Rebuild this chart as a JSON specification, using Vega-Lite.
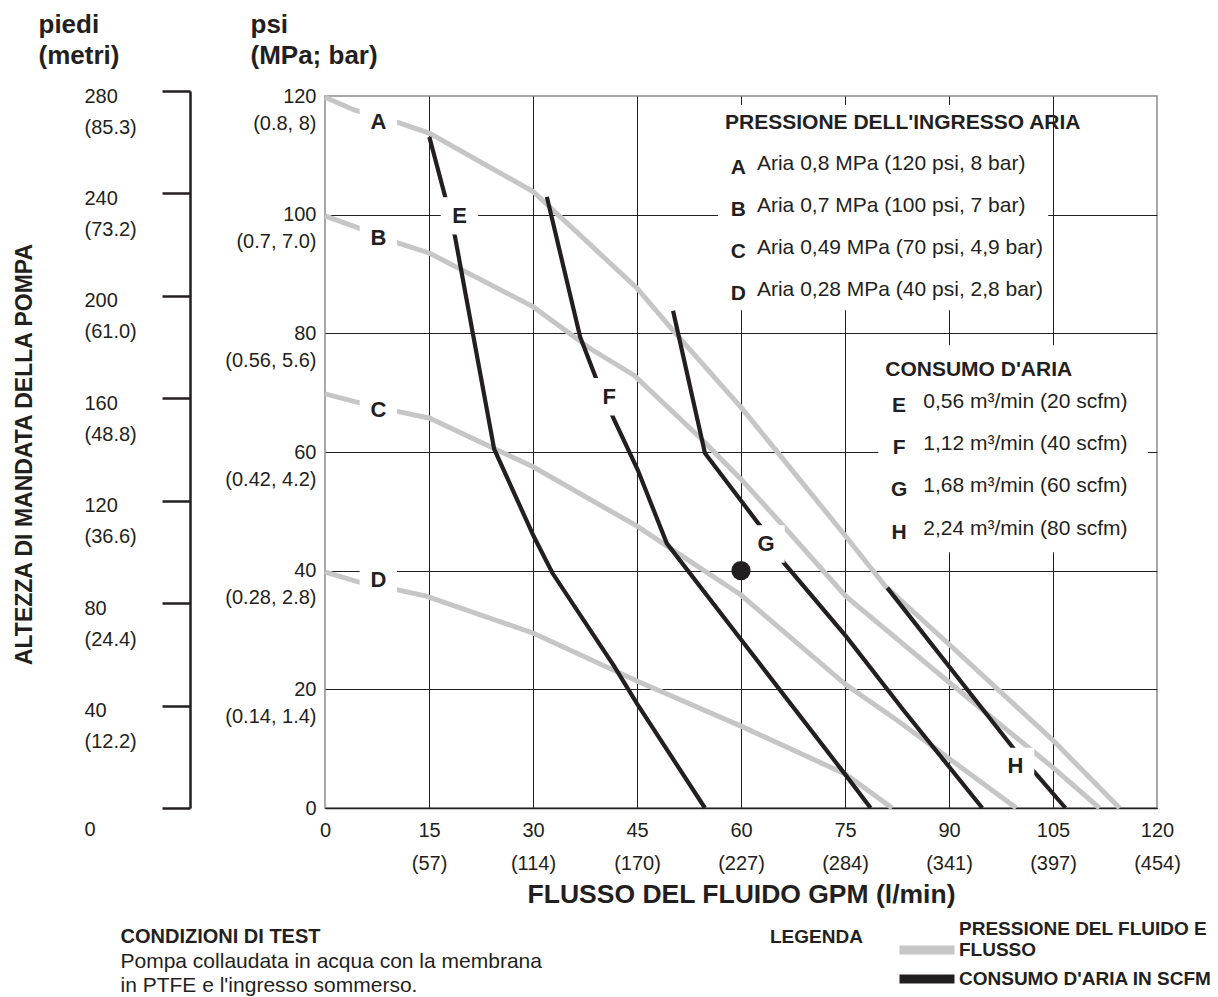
{
  "$schema": "https://vega.github.io/schema/vega-lite/v6.json",
  "width": 832,
  "height": 712,
  "autosize": {"type": "none"},
  "padding": {"left": 325, "top": 96, "right": 61, "bottom": 189},
  "background": "#ffffff",
  "config": {
    "font": "Liberation Sans",
    "view": {"stroke": "#8c8c8c", "strokeWidth": 1.5},
    "axis": {"labelFont": "Liberation Sans", "titleFont": "Liberation Sans", "labelColor": "#231f20", "titleColor": "#231f20", "labelFlush": false, "labelOverlap": false},
    "legend": {"labelFont": "Liberation Sans", "titleFont": "Liberation Sans", "labelColor": "#231f20", "titleColor": "#231f20"}
  },
  "datasets": {
    "curves": [
      {"s": "A", "kind": "PRESSIONE DEL FLUIDO E FLUSSO", "gpm": 0, "psi": 119.8},
      {"s": "A", "kind": "PRESSIONE DEL FLUIDO E FLUSSO", "gpm": 4.3, "psi": 117.6},
      {"s": "A", "kind": "PRESSIONE DEL FLUIDO E FLUSSO", "gpm": 10.6, "psi": 115.5},
      {"s": "A", "kind": "PRESSIONE DEL FLUIDO E FLUSSO", "gpm": 15.1, "psi": 113.7},
      {"s": "A", "kind": "PRESSIONE DEL FLUIDO E FLUSSO", "gpm": 30, "psi": 103.9},
      {"s": "A", "kind": "PRESSIONE DEL FLUIDO E FLUSSO", "gpm": 38.3, "psi": 94.9},
      {"s": "A", "kind": "PRESSIONE DEL FLUIDO E FLUSSO", "gpm": 45, "psi": 87.6},
      {"s": "A", "kind": "PRESSIONE DEL FLUIDO E FLUSSO", "gpm": 50.4, "psi": 80.2},
      {"s": "A", "kind": "PRESSIONE DEL FLUIDO E FLUSSO", "gpm": 60.1, "psi": 67.4},
      {"s": "A", "kind": "PRESSIONE DEL FLUIDO E FLUSSO", "gpm": 64.2, "psi": 61.5},
      {"s": "A", "kind": "PRESSIONE DEL FLUIDO E FLUSSO", "gpm": 75.1, "psi": 45.8},
      {"s": "A", "kind": "PRESSIONE DEL FLUIDO E FLUSSO", "gpm": 80.8, "psi": 37.4},
      {"s": "A", "kind": "PRESSIONE DEL FLUIDO E FLUSSO", "gpm": 90, "psi": 27.6},
      {"s": "A", "kind": "PRESSIONE DEL FLUIDO E FLUSSO", "gpm": 105, "psi": 11.4},
      {"s": "A", "kind": "PRESSIONE DEL FLUIDO E FLUSSO", "gpm": 114.6, "psi": 0},
      {"s": "B", "kind": "PRESSIONE DEL FLUIDO E FLUSSO", "gpm": 0, "psi": 99.8},
      {"s": "B", "kind": "PRESSIONE DEL FLUIDO E FLUSSO", "gpm": 4.3, "psi": 98},
      {"s": "B", "kind": "PRESSIONE DEL FLUIDO E FLUSSO", "gpm": 10.6, "psi": 95.2},
      {"s": "B", "kind": "PRESSIONE DEL FLUIDO E FLUSSO", "gpm": 15.1, "psi": 93.5},
      {"s": "B", "kind": "PRESSIONE DEL FLUIDO E FLUSSO", "gpm": 30, "psi": 84.5},
      {"s": "B", "kind": "PRESSIONE DEL FLUIDO E FLUSSO", "gpm": 38.3, "psi": 77.4},
      {"s": "B", "kind": "PRESSIONE DEL FLUIDO E FLUSSO", "gpm": 44.6, "psi": 72.9},
      {"s": "B", "kind": "PRESSIONE DEL FLUIDO E FLUSSO", "gpm": 54.3, "psi": 62.2},
      {"s": "B", "kind": "PRESSIONE DEL FLUIDO E FLUSSO", "gpm": 60.1, "psi": 55.3},
      {"s": "B", "kind": "PRESSIONE DEL FLUIDO E FLUSSO", "gpm": 66.6, "psi": 46.9},
      {"s": "B", "kind": "PRESSIONE DEL FLUIDO E FLUSSO", "gpm": 75.1, "psi": 35.7},
      {"s": "B", "kind": "PRESSIONE DEL FLUIDO E FLUSSO", "gpm": 90, "psi": 21.2},
      {"s": "B", "kind": "PRESSIONE DEL FLUIDO E FLUSSO", "gpm": 105, "psi": 6.8},
      {"s": "B", "kind": "PRESSIONE DEL FLUIDO E FLUSSO", "gpm": 111.7, "psi": 0},
      {"s": "C", "kind": "PRESSIONE DEL FLUIDO E FLUSSO", "gpm": 0, "psi": 69.8},
      {"s": "C", "kind": "PRESSIONE DEL FLUIDO E FLUSSO", "gpm": 4.3, "psi": 68.5},
      {"s": "C", "kind": "PRESSIONE DEL FLUIDO E FLUSSO", "gpm": 10.6, "psi": 66.8},
      {"s": "C", "kind": "PRESSIONE DEL FLUIDO E FLUSSO", "gpm": 15.1, "psi": 65.7},
      {"s": "C", "kind": "PRESSIONE DEL FLUIDO E FLUSSO", "gpm": 30, "psi": 57.5},
      {"s": "C", "kind": "PRESSIONE DEL FLUIDO E FLUSSO", "gpm": 45, "psi": 47.5},
      {"s": "C", "kind": "PRESSIONE DEL FLUIDO E FLUSSO", "gpm": 49.4, "psi": 44.1},
      {"s": "C", "kind": "PRESSIONE DEL FLUIDO E FLUSSO", "gpm": 60, "psi": 35.9},
      {"s": "C", "kind": "PRESSIONE DEL FLUIDO E FLUSSO", "gpm": 75.1, "psi": 20.8},
      {"s": "C", "kind": "PRESSIONE DEL FLUIDO E FLUSSO", "gpm": 82.5, "psi": 14.8},
      {"s": "C", "kind": "PRESSIONE DEL FLUIDO E FLUSSO", "gpm": 99.7, "psi": 0},
      {"s": "D", "kind": "PRESSIONE DEL FLUIDO E FLUSSO", "gpm": 0, "psi": 39.8},
      {"s": "D", "kind": "PRESSIONE DEL FLUIDO E FLUSSO", "gpm": 4.5, "psi": 38.2},
      {"s": "D", "kind": "PRESSIONE DEL FLUIDO E FLUSSO", "gpm": 10.3, "psi": 36.8},
      {"s": "D", "kind": "PRESSIONE DEL FLUIDO E FLUSSO", "gpm": 14.6, "psi": 35.7},
      {"s": "D", "kind": "PRESSIONE DEL FLUIDO E FLUSSO", "gpm": 30, "psi": 29.5},
      {"s": "D", "kind": "PRESSIONE DEL FLUIDO E FLUSSO", "gpm": 45, "psi": 21.4},
      {"s": "D", "kind": "PRESSIONE DEL FLUIDO E FLUSSO", "gpm": 60, "psi": 13.8},
      {"s": "D", "kind": "PRESSIONE DEL FLUIDO E FLUSSO", "gpm": 75.1, "psi": 5.7},
      {"s": "D", "kind": "PRESSIONE DEL FLUIDO E FLUSSO", "gpm": 81.8, "psi": 0},
      {"s": "E", "kind": "CONSUMO D'ARIA IN SCFM", "gpm": 15.05, "psi": 113.1},
      {"s": "E", "kind": "CONSUMO D'ARIA IN SCFM", "gpm": 17.45, "psi": 102.5},
      {"s": "E", "kind": "CONSUMO D'ARIA IN SCFM", "gpm": 18.75, "psi": 96.3},
      {"s": "E", "kind": "CONSUMO D'ARIA IN SCFM", "gpm": 24.4, "psi": 60.5},
      {"s": "E", "kind": "CONSUMO D'ARIA IN SCFM", "gpm": 30.1, "psi": 45.8},
      {"s": "E", "kind": "CONSUMO D'ARIA IN SCFM", "gpm": 32.8, "psi": 39.6},
      {"s": "E", "kind": "CONSUMO D'ARIA IN SCFM", "gpm": 41.7, "psi": 23.9},
      {"s": "E", "kind": "CONSUMO D'ARIA IN SCFM", "gpm": 45, "psi": 17.6},
      {"s": "E", "kind": "CONSUMO D'ARIA IN SCFM", "gpm": 54.8, "psi": 0},
      {"s": "F", "kind": "CONSUMO D'ARIA IN SCFM", "gpm": 32, "psi": 103},
      {"s": "F", "kind": "CONSUMO D'ARIA IN SCFM", "gpm": 36.8, "psi": 79.4},
      {"s": "F", "kind": "CONSUMO D'ARIA IN SCFM", "gpm": 39.2, "psi": 72.1},
      {"s": "F", "kind": "CONSUMO D'ARIA IN SCFM", "gpm": 41.6, "psi": 65.7},
      {"s": "F", "kind": "CONSUMO D'ARIA IN SCFM", "gpm": 45.1, "psi": 57},
      {"s": "F", "kind": "CONSUMO D'ARIA IN SCFM", "gpm": 49.3, "psi": 44.6},
      {"s": "F", "kind": "CONSUMO D'ARIA IN SCFM", "gpm": 60, "psi": 28.4},
      {"s": "F", "kind": "CONSUMO D'ARIA IN SCFM", "gpm": 74.8, "psi": 6},
      {"s": "F", "kind": "CONSUMO D'ARIA IN SCFM", "gpm": 78.7, "psi": 0},
      {"s": "G", "kind": "CONSUMO D'ARIA IN SCFM", "gpm": 50.2, "psi": 83.8},
      {"s": "G", "kind": "CONSUMO D'ARIA IN SCFM", "gpm": 54.8, "psi": 59.8},
      {"s": "G", "kind": "CONSUMO D'ARIA IN SCFM", "gpm": 62.8, "psi": 47.5},
      {"s": "G", "kind": "CONSUMO D'ARIA IN SCFM", "gpm": 66.2, "psi": 41.3},
      {"s": "G", "kind": "CONSUMO D'ARIA IN SCFM", "gpm": 75.1, "psi": 29},
      {"s": "G", "kind": "CONSUMO D'ARIA IN SCFM", "gpm": 83.5, "psi": 16.4},
      {"s": "G", "kind": "CONSUMO D'ARIA IN SCFM", "gpm": 94.8, "psi": 0},
      {"s": "H", "kind": "CONSUMO D'ARIA IN SCFM", "gpm": 81.1, "psi": 37.1},
      {"s": "H", "kind": "CONSUMO D'ARIA IN SCFM", "gpm": 99.4, "psi": 9.9},
      {"s": "H", "kind": "CONSUMO D'ARIA IN SCFM", "gpm": 102.8, "psi": 5.4},
      {"s": "H", "kind": "CONSUMO D'ARIA IN SCFM", "gpm": 106.8, "psi": 0}
    ],
    "curveLabels": [
      {"s": "A", "gpm": 7.7, "psi": 115.6},
      {"s": "B", "gpm": 7.7, "psi": 96.0},
      {"s": "C", "gpm": 7.7, "psi": 67.0},
      {"s": "D", "gpm": 7.7, "psi": 38.4},
      {"s": "E", "gpm": 19.4, "psi": 99.8},
      {"s": "F", "gpm": 41.0, "psi": 69.3},
      {"s": "G", "gpm": 63.6, "psi": 44.5},
      {"s": "H", "gpm": 99.6, "psi": 7.0}
    ],
    "legendTitles": [
      {"text": "PRESSIONE DELL'INGRESSO ARIA", "gpm": 57.7, "psi": 115.5},
      {"text": "CONSUMO D'ARIA", "gpm": 80.8, "psi": 73.8}
    ],
    "legendItems": [
      {"s": "A", "desc": "Aria 0,8 MPa (120 psi, 8 bar)", "keyGpm": 59.6, "gpm": 62.3, "psi": 108.6},
      {"s": "B", "desc": "Aria 0,7 MPa (100 psi, 7 bar)", "keyGpm": 59.6, "gpm": 62.3, "psi": 101.5},
      {"s": "C", "desc": "Aria 0,49 MPa (70 psi, 4,9 bar)", "keyGpm": 59.6, "gpm": 62.3, "psi": 94.4},
      {"s": "D", "desc": "Aria 0,28 MPa (40 psi, 2,8 bar)", "keyGpm": 59.6, "gpm": 62.3, "psi": 87.3},
      {"s": "E", "desc": "0,56 m³/min (20 scfm)", "keyGpm": 82.8, "gpm": 86.3, "psi": 68.5},
      {"s": "F", "desc": "1,12 m³/min (40 scfm)", "keyGpm": 82.8, "gpm": 86.3, "psi": 61.4},
      {"s": "G", "desc": "1,68 m³/min (60 scfm)", "keyGpm": 82.8, "gpm": 86.3, "psi": 54.2},
      {"s": "H", "desc": "2,24 m³/min (80 scfm)", "keyGpm": 82.8, "gpm": 86.3, "psi": 47.0}
    ],
    "operatingPoint": [{"gpm": 60, "psi": 40}],
    "feetTicks": [{"ft": 0}, {"ft": 40}, {"ft": 80}, {"ft": 120}, {"ft": 160}, {"ft": 200}, {"ft": 240}, {"ft": 280}]
  },
  "layer": [
    {
      "layer": [
        {
          "data": {"name": "curves"},
          "transform": [{"filter": "datum.kind === 'PRESSIONE DEL FLUIDO E FLUSSO'"}],
          "mark": {"type": "line", "strokeWidth": 5},
          "encoding": {
            "x": {
              "field": "gpm", "type": "quantitative",
              "scale": {"domain": [0, 120], "nice": false, "zero": false},
              "axis": {
                "orient": "bottom",
                "values": [0, 15, 30, 45, 60, 75, 90, 105, 120],
                "grid": true, "gridColor": "#231f20", "gridWidth": 1,
                "gridOpacity": {"condition": {"test": "datum.value === 0 || datum.value === 120", "value": 0}, "value": 1},
                "domain": true, "domainColor": "#231f20", "domainWidth": 1.5,
                "ticks": false, "tickSize": 0,
                "labelPadding": 12, "labelBaseline": "top", "labelFontSize": 20, "labelLineHeight": 33,
                "labelExpr": "datum.value === 0 ? '0' : [datum.label, '(' + ['', '57', '114', '170', '227', '284', '341', '397', '454'][datum.value / 15] + ')']",
                "title": "FLUSSO DEL FLUIDO GPM (l/min)",
                "titleFontSize": 26.5, "titleFontWeight": "bold",
                "titleBaseline": "middle", "titleX": 416, "titleY": 86
              }
            },
            "y": {
              "field": "psi", "type": "quantitative",
              "scale": {"domain": [0, 120], "nice": false},
              "axis": {
                "values": [0, 20, 40, 60, 80, 100, 120],
                "grid": true, "gridColor": "#231f20", "gridWidth": 1,
                "gridOpacity": {"condition": {"test": "datum.value === 120", "value": 0}, "value": 1},
                "domain": false, "ticks": false, "tickSize": 0,
                "labelPadding": 9, "labelAlign": "right", "labelBaseline": "top", "labelOffset": -10,
                "labelLineHeight": 27, "labelFontSize": 20,
                "labelExpr": "datum.value === 0 ? '0' : [datum.label, ['', '(0.14, 1.4)', '(0.28, 2.8)', '(0.42, 4.2)', '(0.56, 5.6)', '(0.7, 7.0)', '(0.8, 8)'][datum.value / 20]]",
                "title": ["psi", "(MPa; bar)"],
                "titleAngle": 0, "titleAlign": "left", "titleBaseline": "alphabetic",
                "titleX": -75, "titleY": -64, "titleFontSize": 26, "titleFontWeight": "bold", "titleLineHeight": 31
              }
            },
            "detail": {"field": "s"},
            "color": {
              "field": "kind", "type": "nominal",
              "scale": {"domain": ["PRESSIONE DEL FLUIDO E FLUSSO", "CONSUMO D'ARIA IN SCFM"], "range": ["#c6c6c6", "#231f20"]},
              "legend": {
                "title": "LEGENDA",
                "orient": "none", "legendX": 445, "legendY": 824,
                "titleOrient": "left", "titleAnchor": "start", "titlePadding": 32,
                "titleFontSize": 19, "titleFontWeight": "bold",
                "labelFontSize": 19, "labelFontWeight": "bold", "labelOffset": 0, "labelLimit": 400,
                "labelExpr": "datum.label === 'PRESSIONE DEL FLUIDO E FLUSSO' ? ['PRESSIONE DEL FLUIDO E', 'FLUSSO'] : datum.label",
                "symbolType": "stroke", "symbolSize": 3025, "symbolStrokeWidth": 9,
                "rowPadding": -20, "padding": 0,
                "encode": {
                  "title": {"update": {"angle": {"value": 0}, "baseline": {"value": "top"}, "align": {"value": "left"}, "dy": {"value": 8}}},
                  "symbols": {"update": {"y": {"signal": "datum.value === 'PRESSIONE DEL FLUIDO E FLUSSO' ? 30 : 11"}}},
                  "labels": {"update": {"y": {"signal": "datum.value === 'PRESSIONE DEL FLUIDO E FLUSSO' ? 9 : 11"}}}
                }
              }
            }
          }
        },
        {
          "data": {"name": "curves"},
          "transform": [{"filter": "datum.kind !== 'PRESSIONE DEL FLUIDO E FLUSSO'"}],
          "mark": {"type": "line", "strokeWidth": 4.2},
          "encoding": {
            "x": {"field": "gpm", "type": "quantitative"},
            "y": {"field": "psi", "type": "quantitative"},
            "detail": {"field": "s"},
            "color": {"field": "kind", "type": "nominal"}
          }
        },
        {
          "data": {"values": [{}]},
          "mark": {"type": "rect", "fill": "#ffffff"},
          "encoding": {
            "x": {"datum": 56.7, "type": "quantitative"},
            "x2": {"datum": 104.3},
            "y": {"datum": 118.5, "type": "quantitative"},
            "y2": {"datum": 83.9}
          }
        },
        {
          "data": {"values": [{}]},
          "mark": {"type": "rect", "fill": "#ffffff"},
          "encoding": {
            "x": {"datum": 79.8, "type": "quantitative"},
            "x2": {"datum": 118.7},
            "y": {"datum": 78.0, "type": "quantitative"},
            "y2": {"datum": 43.1}
          }
        },
        {
          "data": {"name": "operatingPoint"},
          "mark": {"type": "circle", "size": 370, "color": "#231f20", "opacity": 1},
          "encoding": {
            "x": {"field": "gpm", "type": "quantitative"},
            "y": {"field": "psi", "type": "quantitative"}
          }
        },
        {
          "data": {"name": "curveLabels"},
          "mark": {"type": "square", "size": 1400, "color": "#ffffff", "opacity": 1},
          "encoding": {
            "x": {"field": "gpm", "type": "quantitative"},
            "y": {"field": "psi", "type": "quantitative"}
          }
        },
        {
          "data": {"name": "curveLabels"},
          "mark": {"type": "text", "fontSize": 22, "fontWeight": "bold", "color": "#231f20", "align": "center", "baseline": "middle"},
          "encoding": {
            "x": {"field": "gpm", "type": "quantitative"},
            "y": {"field": "psi", "type": "quantitative"},
            "text": {"field": "s"}
          }
        },
        {
          "data": {"name": "legendTitles"},
          "mark": {"type": "text", "fontSize": 21, "fontWeight": "bold", "color": "#231f20", "align": "left", "baseline": "middle"},
          "encoding": {
            "x": {"field": "gpm", "type": "quantitative"},
            "y": {"field": "psi", "type": "quantitative"},
            "text": {"field": "text"}
          }
        },
        {
          "data": {"name": "legendItems"},
          "mark": {"type": "text", "fontSize": 21, "fontWeight": "bold", "color": "#231f20", "align": "center", "baseline": "middle", "dy": 4},
          "encoding": {
            "x": {"field": "keyGpm", "type": "quantitative"},
            "y": {"field": "psi", "type": "quantitative"},
            "text": {"field": "s"}
          }
        },
        {
          "data": {"name": "legendItems"},
          "mark": {"type": "text", "fontSize": 21, "color": "#231f20", "align": "left", "baseline": "middle"},
          "encoding": {
            "x": {"field": "gpm", "type": "quantitative"},
            "y": {"field": "psi", "type": "quantitative"},
            "text": {"field": "desc"}
          }
        }
      ]
    },
    {
      "data": {"name": "feetTicks"},
      "layer": [
        {
          "mark": {"type": "point", "opacity": 0},
          "encoding": {
            "x": {
              "datum": 0, "type": "quantitative",
              "axis": {
                "orient": "bottom", "grid": false, "domain": false, "ticks": false, "labels": false,
                "title": "CONDIZIONI DI TEST",
                "titleX": -205, "titleY": 128, "titleAlign": "left", "titleBaseline": "middle",
                "titleFontSize": 20, "titleFontWeight": "bold"
              }
            },
            "y": {
              "field": "ft", "type": "quantitative",
              "scale": {"domain": [0, 280], "range": [712, -5], "nice": false},
              "axis": {
                "orient": "left", "offset": 135,
                "values": [0, 40, 80, 120, 160, 200, 240, 280],
                "grid": false,
                "domain": true, "domainColor": "#231f20", "domainWidth": 2.5,
                "ticks": true, "tickColor": "#231f20", "tickWidth": 2.5, "tickSize": 28,
                "labelAlign": "left", "labelPadding": 78, "labelBaseline": "top",
                "labelFontSize": 20, "labelLineHeight": 31,
                "labelOffset": {"condition": {"test": "datum.value === 0", "value": 11}, "value": -5},
                "labelExpr": "datum.value === 0 ? '0' : [datum.label, '(' + ['', '12.2', '24.4', '36.6', '48.8', '61.0', '73.2', '85.3'][datum.value / 40] + ')']",
                "title": "ALTEZZA DI MANDATA DELLA POMPA",
                "titleFontSize": 23, "titleFontWeight": "bold",
                "titleAngle": 270, "titleX": -166, "titleY": 358,
                "titleAlign": "center", "titleBaseline": "middle"
              }
            }
          }
        },
        {
          "mark": {"type": "point", "opacity": 0},
          "encoding": {
            "x": {
              "datum": 0, "type": "quantitative",
              "axis": {
                "orient": "bottom", "grid": false, "domain": false, "ticks": false, "labels": false,
                "title": ["Pompa collaudata in acqua con la membrana", "in PTFE e l'ingresso sommerso."],
                "titleX": -205, "titleY": 153, "titleAlign": "left", "titleBaseline": "middle",
                "titleFontSize": 21, "titleFontWeight": "normal", "titleLineHeight": 24
              }
            },
            "y": {
              "field": "ft", "type": "quantitative",
              "axis": {
                "orient": "left", "offset": 0,
                "grid": false, "domain": false, "ticks": false, "labels": false,
                "title": ["piedi", "(metri)"],
                "titleAngle": 0, "titleAlign": "left", "titleBaseline": "alphabetic",
                "titleX": -287, "titleY": -64, "titleFontSize": 26, "titleFontWeight": "bold", "titleLineHeight": 31
              }
            }
          }
        }
      ],
      "resolve": {"axis": {"x": "independent", "y": "independent"}}
    }
  ],
  "resolve": {"scale": {"y": "independent"}, "axis": {"x": "independent"}}
}
